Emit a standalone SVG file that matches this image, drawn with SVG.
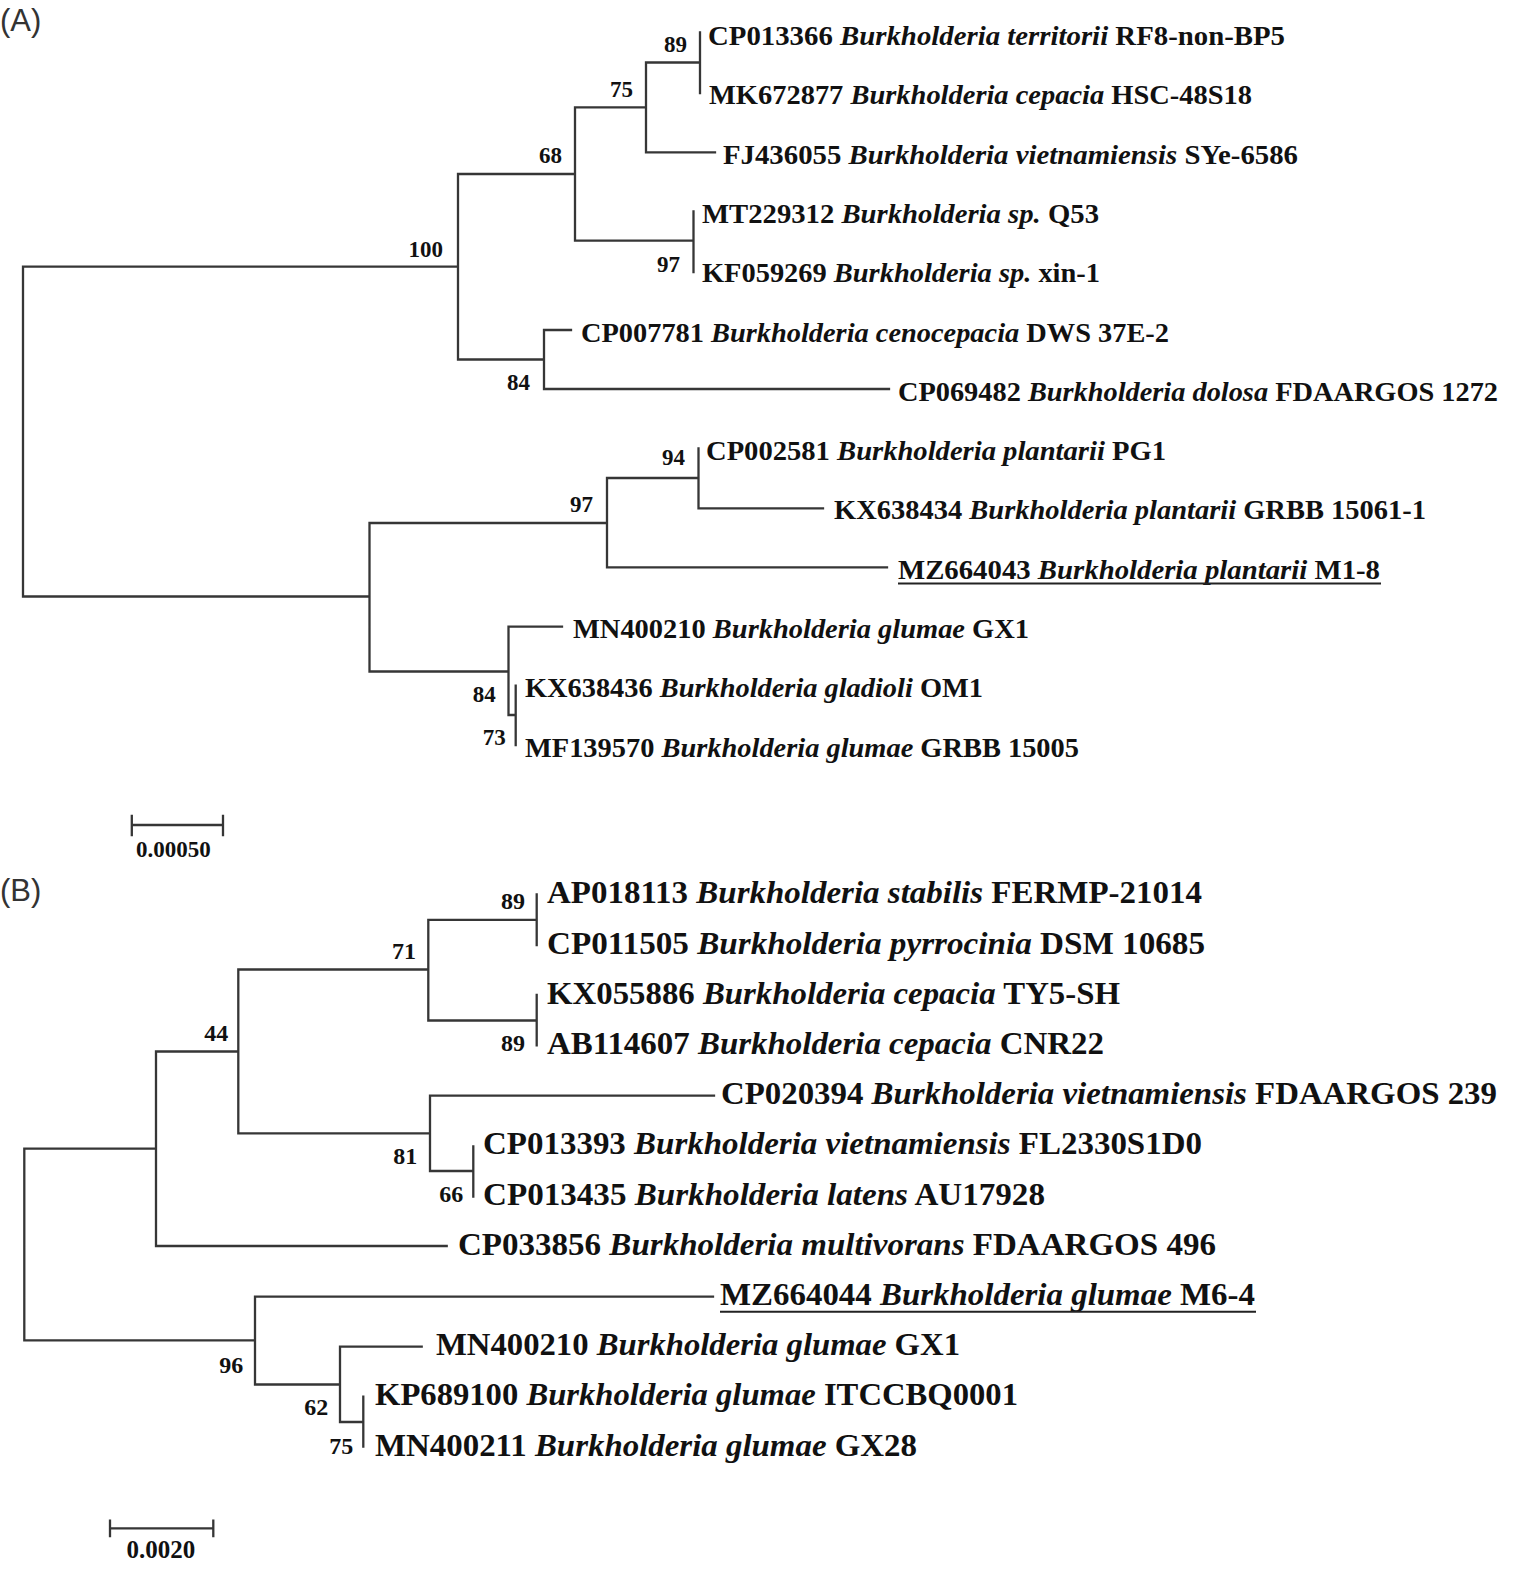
<svg xmlns="http://www.w3.org/2000/svg" width="1515" height="1572" viewBox="0 0 1515 1572">
<style>
.br{fill:none;stroke:#363636;stroke-width:2.3;stroke-linecap:square}
.lfA{font-family:"Liberation Serif","Times New Roman",serif;font-weight:bold;font-size:27px;fill:#111}
.lfB{font-family:"Liberation Serif","Times New Roman",serif;font-weight:bold;font-size:31px;fill:#111}
.it{font-style:italic}
.bsA{font-family:"Liberation Serif","Times New Roman",serif;font-weight:bold;font-size:23px;fill:#111;text-anchor:end}
.bsB{font-family:"Liberation Serif","Times New Roman",serif;font-weight:bold;font-size:24px;fill:#111;text-anchor:end}
.pl{font-family:"Liberation Sans",Arial,sans-serif;font-size:31px;fill:#333}
.ul{stroke:#222;stroke-width:2}
</style>
<rect width="1515" height="1572" fill="#fff"/>
<text class="pl" x="0" y="31">(A)</text>
<text class="pl" x="0" y="901">(B)</text>

<g id="connectors">
<path class="br" d="M23,266.7 V596.5 M23,266.7 H458 M458,174 V359.5 M458,174 H575 M575,107.3 V240.7 M575,107.3 H646 M646,62.5 V152.3 M646,62.5 H700 M700,32.5 V93 M646,152.3 H715 M575,240.7 H693.5 M693.5,211.5 V272 M458,359.5 H544 M544,330 V389 M544,330 H571 M544,389 H889 M23,596.5 H369.5 M369.5,523 V671.5 M369.5,523 H607 M607,478 V567.3 M607,478 H698.5 M698.5,448.3 V508.3 M698.5,508.3 H823 M607,567.3 H887 M369.5,671.5 H508.5 M508.5,626.7 V715 M508.5,626.7 H562 M508.5,715 H515.7 M515.7,685.7 V745"/>
<path class="br" d="M24.3,1148.7 V1340.3 M24.3,1148.7 H156 M156,1051.5 V1246 M156,1051.5 H238.3 M238.3,969.5 V1133.3 M238.3,969.5 H428.3 M428.3,919.8 V1020.5 M428.3,919.8 H536.7 M536.7,894.5 V945 M428.3,1020.5 H536.7 M536.7,995 V1045.3 M238.3,1133.3 H430 M430,1095.7 V1171 M430,1095.7 H714 M430,1171 H473.3 M473.3,1146.5 V1196.5 M156,1246 H446.7 M24.3,1340.3 H255 M255,1296.6 V1384.5 M255,1296.6 H713 M255,1384.5 H340 M340,1346.7 V1422 M340,1346.7 H421.7 M340,1422 H363.3 M363.3,1396.7 V1446.7"/>
</g>

<g id="scale-A">
<path class="br" d="M131.8,825 H223 M131.8,816 V835 M223,816 V835"/>
<text class="bsA" style="text-anchor:middle" x="173.3" y="856.7">0.00050</text>
</g>
<g id="scale-B">
<path class="br" d="M110,1528.3 H213.3 M110,1520.7 V1536 M213.3,1520.7 V1536"/>
<text class="bsB" style="text-anchor:middle;font-size:25px" x="160.8" y="1558.3">0.0020</text>
</g>

<g id="bootstrap-A">
<text class="bsA" x="687" y="51.7">89</text>
<text class="bsA" x="633" y="97">75</text>
<text class="bsA" x="562" y="163">68</text>
<text class="bsA" x="443" y="256.7">100</text>
<text class="bsA" x="680" y="272">97</text>
<text class="bsA" x="530" y="390">84</text>
<text class="bsA" x="685" y="465">94</text>
<text class="bsA" x="593" y="511.7">97</text>
<text class="bsA" x="495.7" y="701.7">84</text>
<text class="bsA" x="505.7" y="745">73</text>
</g>
<g id="bootstrap-B">
<text class="bsB" x="525" y="909.3">89</text>
<text class="bsB" x="416" y="959.3">71</text>
<text class="bsB" x="525" y="1050.7">89</text>
<text class="bsB" x="228.3" y="1040.7">44</text>
<text class="bsB" x="417.3" y="1164">81</text>
<text class="bsB" x="463.3" y="1201.7">66</text>
<text class="bsB" x="243.3" y="1372.7">96</text>
<text class="bsB" x="328.3" y="1415">62</text>
<text class="bsB" x="353.3" y="1454">75</text>
</g>

<g id="leaf-A-CP013366"><text class="lfA" x="708" y="45" textLength="577" lengthAdjust="spacingAndGlyphs">CP013366 <tspan class="it">Burkholderia territorii</tspan> RF8-non-BP5</text></g>
<g id="leaf-A-MK672877"><text class="lfA" x="709" y="104.3" textLength="543" lengthAdjust="spacingAndGlyphs">MK672877 <tspan class="it">Burkholderia cepacia</tspan> HSC-48S18</text></g>
<g id="leaf-A-FJ436055"><text class="lfA" x="723" y="163.6" textLength="575" lengthAdjust="spacingAndGlyphs">FJ436055 <tspan class="it">Burkholderia vietnamiensis</tspan> SYe-6586</text></g>
<g id="leaf-A-MT229312"><text class="lfA" x="702" y="222.9" textLength="397" lengthAdjust="spacingAndGlyphs">MT229312 <tspan class="it">Burkholderia sp.</tspan> Q53</text></g>
<g id="leaf-A-KF059269"><text class="lfA" x="702" y="282.2" textLength="398" lengthAdjust="spacingAndGlyphs">KF059269 <tspan class="it">Burkholderia sp.</tspan> xin-1</text></g>
<g id="leaf-A-CP007781"><text class="lfA" x="581" y="341.5" textLength="588" lengthAdjust="spacingAndGlyphs">CP007781 <tspan class="it">Burkholderia cenocepacia</tspan> DWS 37E-2</text></g>
<g id="leaf-A-CP069482"><text class="lfA" x="898" y="400.8" textLength="600" lengthAdjust="spacingAndGlyphs">CP069482 <tspan class="it">Burkholderia dolosa</tspan> FDAARGOS 1272</text></g>
<g id="leaf-A-CP002581"><text class="lfA" x="706" y="460.1" textLength="460" lengthAdjust="spacingAndGlyphs">CP002581 <tspan class="it">Burkholderia plantarii</tspan> PG1</text></g>
<g id="leaf-A-KX638434"><text class="lfA" x="834" y="519.4" textLength="592" lengthAdjust="spacingAndGlyphs">KX638434 <tspan class="it">Burkholderia plantarii</tspan> GRBB 15061-1</text></g>
<g id="leaf-A-MZ664043"><text class="lfA" x="898" y="578.7" textLength="482" lengthAdjust="spacingAndGlyphs">MZ664043 <tspan class="it">Burkholderia plantarii</tspan> M1-8</text><line class="ul" x1="898" y1="583.5" x2="1381" y2="583.5"/></g>
<g id="leaf-A-MN400210"><text class="lfA" x="573" y="638" textLength="456" lengthAdjust="spacingAndGlyphs">MN400210 <tspan class="it">Burkholderia glumae</tspan> GX1</text></g>
<g id="leaf-A-KX638436"><text class="lfA" x="525" y="697.3" textLength="458" lengthAdjust="spacingAndGlyphs">KX638436 <tspan class="it">Burkholderia gladioli</tspan> OM1</text></g>
<g id="leaf-A-MF139570"><text class="lfA" x="525" y="756.6" textLength="554" lengthAdjust="spacingAndGlyphs">MF139570 <tspan class="it">Burkholderia glumae</tspan> GRBB 15005</text></g>

<g id="leaf-B-AP018113"><text class="lfB" x="547" y="903.3" textLength="655" lengthAdjust="spacingAndGlyphs">AP018113 <tspan class="it">Burkholderia stabilis</tspan> FERMP-21014</text></g>
<g id="leaf-B-CP011505"><text class="lfB" x="547" y="953.5" textLength="658" lengthAdjust="spacingAndGlyphs">CP011505 <tspan class="it">Burkholderia pyrrocinia</tspan> DSM 10685</text></g>
<g id="leaf-B-KX055886"><text class="lfB" x="547" y="1003.7" textLength="573" lengthAdjust="spacingAndGlyphs">KX055886 <tspan class="it">Burkholderia cepacia</tspan> TY5-SH</text></g>
<g id="leaf-B-AB114607"><text class="lfB" x="547" y="1053.9" textLength="557" lengthAdjust="spacingAndGlyphs">AB114607 <tspan class="it">Burkholderia cepacia</tspan> CNR22</text></g>
<g id="leaf-B-CP020394"><text class="lfB" x="721" y="1104.1" textLength="776" lengthAdjust="spacingAndGlyphs">CP020394 <tspan class="it">Burkholderia vietnamiensis</tspan> FDAARGOS 239</text></g>
<g id="leaf-B-CP013393"><text class="lfB" x="483" y="1154.3" textLength="719" lengthAdjust="spacingAndGlyphs">CP013393 <tspan class="it">Burkholderia vietnamiensis</tspan> FL2330S1D0</text></g>
<g id="leaf-B-CP013435"><text class="lfB" x="483" y="1204.5" textLength="562" lengthAdjust="spacingAndGlyphs">CP013435 <tspan class="it">Burkholderia latens</tspan> AU17928</text></g>
<g id="leaf-B-CP033856"><text class="lfB" x="458" y="1254.7" textLength="758" lengthAdjust="spacingAndGlyphs">CP033856 <tspan class="it">Burkholderia multivorans</tspan> FDAARGOS 496</text></g>
<g id="leaf-B-MZ664044"><text class="lfB" x="720" y="1304.9" textLength="535" lengthAdjust="spacingAndGlyphs">MZ664044 <tspan class="it">Burkholderia glumae</tspan> M6-4</text><line class="ul" x1="720" y1="1311.7" x2="1256" y2="1311.7"/></g>
<g id="leaf-B-MN400210"><text class="lfB" x="436" y="1355.1" textLength="524" lengthAdjust="spacingAndGlyphs">MN400210 <tspan class="it">Burkholderia glumae</tspan> GX1</text></g>
<g id="leaf-B-KP689100"><text class="lfB" x="375" y="1405.3" textLength="643" lengthAdjust="spacingAndGlyphs">KP689100 <tspan class="it">Burkholderia glumae</tspan> ITCCBQ0001</text></g>
<g id="leaf-B-MN400211"><text class="lfB" x="375" y="1455.5" textLength="542" lengthAdjust="spacingAndGlyphs">MN400211 <tspan class="it">Burkholderia glumae</tspan> GX28</text></g>
</svg>
